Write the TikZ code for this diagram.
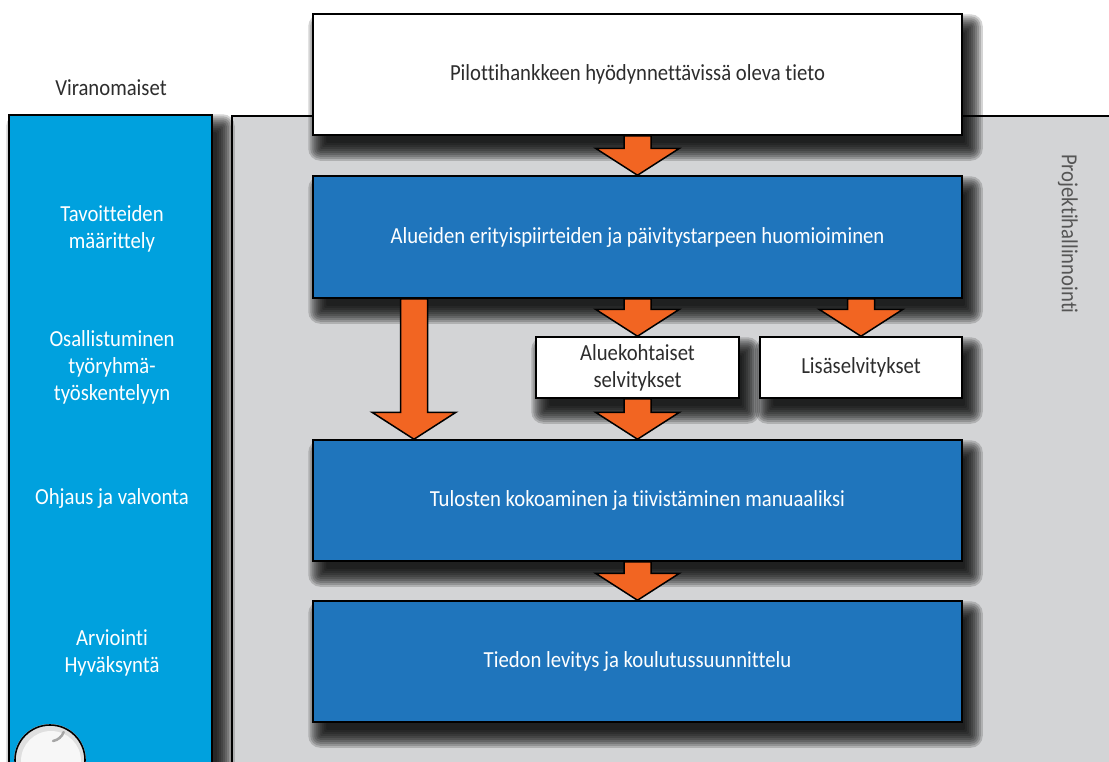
\documentclass[tikz,border=0pt]{standalone}
\usepackage{fontspec}
\setmainfont{Carlito}[Ligatures=NoCommon, FakeStretch=0.9]
\usetikzlibrary{calc}

\definecolor{panelblue}{RGB}{0,161,222}
\definecolor{stepblue}{RGB}{31,117,188}
\definecolor{flow}{RGB}{242,101,34}
\definecolor{panelgray}{RGB}{211,212,214}
\definecolor{ink}{RGB}{45,45,45}
\definecolor{sidetext}{RGB}{85,85,85}

\pgfdeclarelayer{back}
\pgfdeclarelayer{shade}
\pgfsetlayers{back,shade,main}

\newcommand\txt{\fontsize{23}{27}\selectfont}

\tikzset{
  stepbox/.style={draw=black, line width=1.5pt, fill=stepblue, text=white,
      minimum width=649pt, minimum height=121pt, inner sep=0pt, font=\txt,
      align=center},
  notebox/.style={draw=black, line width=1.5pt, fill=white, text=ink,
      minimum height=61pt, inner sep=0pt, font=\txt, align=center},
  sidelabel/.style={text=white, font=\txt, align=center},
  fatarrow/.style={fill=flow, draw=black, line width=1.5pt, line join=miter},
  shadelayer/.style={black, fill opacity=0.17},
}

% soft drop shadow under a node: nested translucent rectangles
% #1 node, #2 x offset, #3 y offset (downwards)
\newcommand\softshadow[3]{%
  \begin{pgfonlayer}{shade}
    \foreach \r in {-6,-4,...,12}{
      \fill[shadelayer, rounded corners={max(\r,1)*1pt}]
        ([shift={(#2-\r,#3+\r)}]#1.south west) rectangle
        ([shift={(#2+\r,#3-\r)}]#1.north east);
    }
  \end{pgfonlayer}}

% broad block arrow from a start point (shaft top) to a tip point
\newcommand\flowarrow[2]{%
  \path[fatarrow] let \p1=(#1), \p2=(#2) in
    (\x2-13.5pt,\y1) -- (\x2+13.5pt,\y1) -- (\x2+13.5pt,\y2+27pt) --
    (\x2+42pt,\y2+27pt) -- (\x2,\y2) -- (\x2-42pt,\y2+27pt) --
    (\x2-13.5pt,\y2+27pt) -- cycle;}

\begin{document}
\begin{tikzpicture}[x=1pt,y=-1pt]
  \useasboundingbox (0,0) rectangle (1109,761);
  \clip (0,0) rectangle (1109,761);

  % project management panel
  \begin{pgfonlayer}{back}
    \fill[white] (0,0) rectangle (1109,761);
    \path[fill=panelgray] (232,116) rectangle (1130,800);
    \draw[line width=1.5pt] (232,800) -- (232,116) -- (1130,116);
  \end{pgfonlayer}
  \node[text=sidetext, font=\txt, rotate=-90] (pm) at (1068,234) {Projektihallinnointi};

  % authorities panel
  \node[draw=black, line width=1.5pt, fill=panelblue, minimum width=203pt,
        minimum height=680pt, inner sep=0pt] (auth) at (110.5,455) {};
  \softshadow{auth}{10}{12}
  \node[text=ink, font=\txt] (authT) at (111,88) {Viranomaiset};
  \node[sidelabel] (s1) at (112,229) {Tavoitteiden\\määrittely};
  \node[sidelabel] (s2) at (112,367) {Osallistuminen\\työryhmä-\\työskentelyyn};
  \node[sidelabel] (s3) at (112,498) {Ohjaus ja valvonta};
  \node[sidelabel] (s4) at (112,653) {Arviointi\\Hyväksyntä};

  % round knob at the foot of the panel
  \fill[gray!45] (50,760) circle (36pt);
  \draw[line width=1.6pt, fill=gray!25] (50,760) circle (35pt);
  \fill[white!94!gray] (51,761) circle (30pt);
  \draw[gray!70, line width=2.5pt, line cap=round] (53,741) arc (-80:-20:14pt);

  % process boxes
  \node[notebox, minimum width=649pt, minimum height=121pt] (top) at (637.5,74.5)
        {Pilottihankkeen hyödynnettävissä oleva tieto};
  \node[stepbox, minimum height=122pt] (b1) at (637.5,237)
        {Alueiden erityispiirteiden ja päivitystarpeen huomioiminen};
  \node[notebox, minimum width=203pt] (alue) at (637.5,367.5)
        {Aluekohtaiset\\selvitykset};
  \node[notebox, minimum width=202pt] (lis) at (861,367.5) {Lisäselvitykset};
  \node[stepbox] (b2) at (637.5,500.5)
        {Tulosten kokoaminen ja tiivistäminen manuaaliksi};
  \node[stepbox] (b3) at (637.5,661.5)
        {Tiedon levitys ja koulutussuunnittelu};
  \foreach \n in {top,b1,alue,lis,b2,b3} {\softshadow{\n}{8}{13}}

  % flow arrows
  \coordinate (lx) at (414,0);
  \flowarrow{top.south}{b1.north}
  \flowarrow{b1.south -| alue.north}{alue.north}
  \flowarrow{b1.south -| lis.north}{lis.north}
  \flowarrow{b1.south -| lx}{b2.north -| lx}
  \flowarrow{alue.south}{b2.north -| alue.south}
  \flowarrow{b2.south}{b3.north}
\end{tikzpicture}
\end{document}
